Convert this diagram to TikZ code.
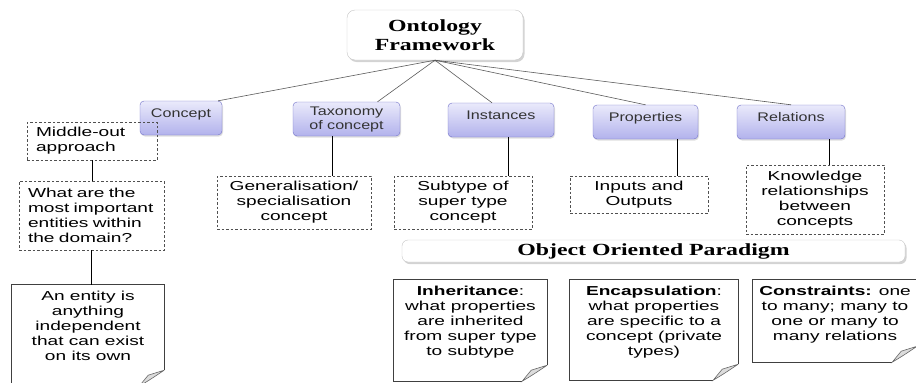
\documentclass[tikz,border=0pt]{standalone}
\usepackage{fontspec}
\setmainfont{Liberation Sans}
\newfontfamily\boxfont{Liberation Sans}[FakeStretch=1.47]
\newfontfamily\catfont{Liberation Sans}[FakeStretch=1.29]
\newfontfamily\headfont{Liberation Serif}[FakeStretch=1.4]
\usepackage{xcolor}
\definecolor{catfill}{RGB}{234,234,251}
\definecolor{catshade}{RGB}{178,178,236}
\definecolor{catline}{RGB}{112,112,200}
\definecolor{dashgray}{RGB}{80,80,80}
\definecolor{linkgray}{RGB}{90,90,90}
\definecolor{foldgray}{RGB}{220,220,220}
\usetikzlibrary{shadows, calc}

\begin{document}
\begin{tikzpicture}[x=1pt, y=-1pt,
  headbox/.style={draw=gray!45, fill=white, rounded corners=8pt, align=center, inner sep=0pt,
    font=\headfont\fontsize{17}{19}\selectfont\bfseries,
    drop shadow={opacity=0.35, shadow xshift=1.5pt, shadow yshift=-2pt}},
  catbox/.style={draw=catline, top color=catfill, bottom color=catshade, rounded corners=4pt,
    minimum height=34pt, inner sep=0pt, align=center, text=black!80,
    font=\catfont\fontsize{12.5}{14}\selectfont,
    drop shadow={opacity=0.25, shadow xshift=1pt, shadow yshift=-1.5pt}},
  catone/.style={catbox, text height=9pt, text depth=11pt},
  dashbox/.style={draw=dashgray, dash pattern=on 2.5pt off 2pt, line width=0.7pt,
    inner sep=0pt, align=center, font=\boxfont\fontsize{13}{15}\selectfont},
  notebox/.style={inner sep=0pt, align=center,
    font=\boxfont\fontsize{13}{15}\selectfont},
  noteline/.style={draw=black!75, line width=0.7pt},
  foldline/.style={draw=black!60, fill=foldgray, line width=0.6pt},
  link/.style={linkgray, line width=0.6pt},
  stem/.style={black, line width=0.7pt}]

\useasboundingbox (0,0) rectangle (916,383);

% title
\node[headbox, minimum width=176pt, minimum height=50pt] (onto) at (435,35) {Ontology\\Framework};

% categories
\node[catone, minimum width=82pt] (concept) at (181,118) {Concept};
\node[catbox, minimum width=107pt] (taxonomy) at (346.5,119) {Taxonomy\\of concept};
\node[catone, minimum width=106pt] (instances) at (501,120) {Instances};
\node[catone, minimum width=105pt] (properties) at (645.5,122) {Properties};
\node[catone, minimum width=108pt] (relations) at (791,122) {Relations};

\draw[link] (onto.south) -- ([xshift=-4pt]concept.north east);
\draw[link] (onto.south) -- ([xshift=31pt]taxonomy.north);
\draw[link] (onto.south) -- ([xshift=-9pt]instances.north);
\draw[link] (onto.south) -- (properties.north);
\draw[link] (onto.south) -- (relations.north);

% dashed notes
\node[dashbox, align=left, text width=112pt, inner xsep=9pt, minimum height=38pt] (midout) at (92,141) {Middle-out\\approach};
\node[dashbox, align=left, text width=127pt, inner xsep=9pt, minimum height=69pt] (whatare) at (91.5,215.5) {What are the\\most important\\entities within\\the domain?};
\node[dashbox, minimum width=154pt, minimum height=53pt] (general) at (294,202.5) {Generalisation/\\specialisation\\concept};
\node[dashbox, minimum width=138pt, minimum height=53pt] (subtype) at (463,202.5) {Subtype of\\super type\\concept};
\node[dashbox, minimum width=138pt, minimum height=37pt] (inout) at (639,194.5) {Inputs and\\Outputs};
\node[dashbox, minimum width=138pt, minimum height=69pt] (knowledge) at (815,199.5) {Knowledge\\relationships\\between\\concepts};

% object oriented part
\node[headbox, rounded corners=6pt, minimum width=503pt, minimum height=22pt] (oop) at (653.5,251) {Object Oriented Paradigm};

\node[notebox, minimum width=152pt, minimum height=101pt, text depth=20.3pt] (entity) at (88,335.5) {An entity is\\anything\\independent\\that can exist\\on its own};
\node[notebox, minimum width=153pt, minimum height=101pt, text depth=20.3pt] (inherit) at (470.5,330.5) {\textbf{Inheritance}:\\what properties\\are inherited\\from super type\\to subtype};
\node[notebox, minimum width=168pt, minimum height=100pt, text depth=19.3pt] (encap) at (654,330) {\textbf{Encapsulation}:\\what properties\\are specific to a\\concept (private\\types)};
\node[notebox, minimum width=164pt, minimum height=82pt, text depth=16.3pt] (constr) at (835,321) {\textbf{Constraints:} one\\to many; many to\\one or many to\\many relations};

\foreach \nm in {entity, inherit, encap, constr} {
  \draw[noteline] ([yshift=16pt]\nm.south east) -- (\nm.north east) -- (\nm.north west)
    -- (\nm.south west) -- ([xshift=-25pt]\nm.south east);
  \draw[foldline] ([yshift=16pt]\nm.south east) -- ([xshift=-16pt,yshift=11pt]\nm.south east)
    -- ([xshift=-25pt]\nm.south east) .. controls ([xshift=-15pt,yshift=6pt]\nm.south east) .. ([yshift=16pt]\nm.south east);
}

% stems
\draw[stem] (midout.south) -- (midout.south |- whatare.north);
\draw[stem] (whatare.south) -- (whatare.south |- entity.north);
\draw[stem] ([xshift=-14.5pt]taxonomy.south) -- ([xshift=-14.5pt]taxonomy.south |- general.north);
\draw[stem] ([xshift=7pt]instances.south) -- ([xshift=7pt]instances.south |- subtype.north);
\draw[stem] ([xshift=31.5pt]properties.south) -- ([xshift=31.5pt]properties.south |- inout.north);
\draw[stem] ([xshift=38pt]relations.south) -- ([xshift=38pt]relations.south |- knowledge.north);

\end{tikzpicture}
\end{document}
